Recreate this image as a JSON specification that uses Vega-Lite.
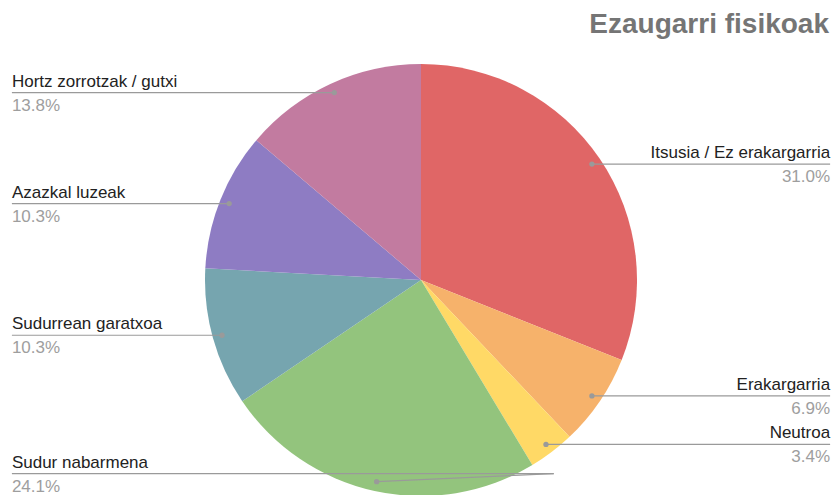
{
  "$schema": "https://vega.github.io/schema/vega-lite/v6.json",
  "width": 834,
  "height": 495,
  "autosize": "none",
  "padding": 0,
  "background": "white",
  "title": {
    "text": "Ezaugarri fisikoak",
    "anchor": "end",
    "font": "Liberation Sans",
    "fontSize": 28,
    "fontWeight": "bold",
    "color": "#757575",
    "baseline": "alphabetic",
    "dx": -5,
    "dy": 65
  },
  "config": {"view": {"stroke": null}},
  "data": {
    "values": [
      {"label": "Itsusia / Ez erakargarria", "count": 9},
      {"label": "Erakargarria", "count": 2},
      {"label": "Neutroa", "count": 1},
      {"label": "Sudur nabarmena", "count": 7},
      {"label": "Sudurrean garatxoa", "count": 3},
      {"label": "Azazkal luzeak", "count": 3},
      {"label": "Hortz zorrotzak / gutxi", "count": 4}
    ]
  },
  "transform": [
    {"window": [{"op": "sum", "field": "count", "as": "cum"}, {"op": "row_number", "as": "i"}], "frame": [null, 0]},
    {"joinaggregate": [{"op": "sum", "field": "count", "as": "total"}]},
    {"calculate": "2*PI*(datum.cum - datum.count/2)/datum.total", "as": "mid"},
    {"calculate": "0.956*sin(datum.mid)", "as": "px"},
    {"calculate": "0.956*cos(datum.mid)", "as": "py"},
    {"calculate": "datum.px >= 0 ? 1 : -1", "as": "side"},
    {"calculate": "max(datum.py, -0.896)", "as": "ly"},
    {"calculate": "datum.ly > datum.py ? datum.px - datum.side*0.82 : datum.px", "as": "bx"},
    {"calculate": "datum.side*1.894", "as": "lx"},
    {"calculate": "format(datum.count/datum.total, '.1%')", "as": "pct"}
  ],
  "layer": [
    {
      "mark": {"type": "arc", "outerRadius": 216},
      "encoding": {
        "theta": {"field": "count", "type": "quantitative", "stack": true},
        "order": {"field": "i", "type": "quantitative"},
        "color": {
          "field": "label",
          "type": "nominal",
          "legend": null,
          "scale": {
            "domain": ["Itsusia / Ez erakargarria", "Erakargarria", "Neutroa", "Sudur nabarmena", "Sudurrean garatxoa", "Azazkal luzeak", "Hortz zorrotzak / gutxi"],
            "range": ["#e06666", "#f6b26b", "#ffd966", "#93c47d", "#76a5af", "#8e7cc3", "#c27ba0"]
          }
        },
        "x": {"datum": 0, "type": "quantitative", "axis": null, "scale": {"domain": [-1.9491, 1.912], "nice": false, "zero": false}},
        "y": {"datum": 0, "type": "quantitative", "axis": null, "scale": {"domain": [-0.99537, 1.2963], "nice": false, "zero": false}}
      }
    },
    {
      "mark": {"type": "rule", "color": "#9a9a9a", "strokeWidth": 1.2},
      "encoding": {
        "x": {"field": "lx", "type": "quantitative", "axis": null, "scale": {"domain": [-1.9491, 1.912], "nice": false, "zero": false}},
        "x2": {"field": "bx"},
        "y": {"field": "ly", "type": "quantitative", "axis": null, "scale": {"domain": [-0.99537, 1.2963], "nice": false, "zero": false}}
      }
    },
    {
      "mark": {"type": "rule", "color": "#9a9a9a", "strokeWidth": 1.2},
      "encoding": {
        "x": {"field": "bx", "type": "quantitative", "axis": null, "scale": {"domain": [-1.9491, 1.912], "nice": false, "zero": false}},
        "x2": {"field": "px"},
        "y": {"field": "ly", "type": "quantitative", "axis": null, "scale": {"domain": [-0.99537, 1.2963], "nice": false, "zero": false}},
        "y2": {"field": "py"}
      }
    },
    {
      "mark": {"type": "point", "filled": true, "color": "#9a9a9a", "size": 28, "opacity": 1},
      "encoding": {
        "x": {"field": "px", "type": "quantitative", "axis": null, "scale": {"domain": [-1.9491, 1.912], "nice": false, "zero": false}},
        "y": {"field": "py", "type": "quantitative", "axis": null, "scale": {"domain": [-0.99537, 1.2963], "nice": false, "zero": false}}
      }
    },
    {
      "transform": [{"filter": "datum.side > 0"}],
      "mark": {"type": "text", "align": "right", "baseline": "alphabetic", "dy": -6, "font": "Liberation Sans", "fontSize": 17, "color": "#222222"},
      "encoding": {
        "x": {"field": "lx", "type": "quantitative", "axis": null, "scale": {"domain": [-1.9491, 1.912], "nice": false, "zero": false}},
        "y": {"field": "ly", "type": "quantitative", "axis": null, "scale": {"domain": [-0.99537, 1.2963], "nice": false, "zero": false}},
        "text": {"field": "label"}
      }
    },
    {
      "transform": [{"filter": "datum.side < 0"}],
      "mark": {"type": "text", "align": "left", "baseline": "alphabetic", "dy": -6, "font": "Liberation Sans", "fontSize": 17, "color": "#222222"},
      "encoding": {
        "x": {"field": "lx", "type": "quantitative", "axis": null, "scale": {"domain": [-1.9491, 1.912], "nice": false, "zero": false}},
        "y": {"field": "ly", "type": "quantitative", "axis": null, "scale": {"domain": [-0.99537, 1.2963], "nice": false, "zero": false}},
        "text": {"field": "label"}
      }
    },
    {
      "transform": [{"filter": "datum.side > 0"}],
      "mark": {"type": "text", "align": "right", "baseline": "alphabetic", "dy": 18, "font": "Liberation Sans", "fontSize": 17, "color": "#9e9e9e"},
      "encoding": {
        "x": {"field": "lx", "type": "quantitative", "axis": null, "scale": {"domain": [-1.9491, 1.912], "nice": false, "zero": false}},
        "y": {"field": "ly", "type": "quantitative", "axis": null, "scale": {"domain": [-0.99537, 1.2963], "nice": false, "zero": false}},
        "text": {"field": "pct"}
      }
    },
    {
      "transform": [{"filter": "datum.side < 0"}],
      "mark": {"type": "text", "align": "left", "baseline": "alphabetic", "dy": 18, "font": "Liberation Sans", "fontSize": 17, "color": "#9e9e9e"},
      "encoding": {
        "x": {"field": "lx", "type": "quantitative", "axis": null, "scale": {"domain": [-1.9491, 1.912], "nice": false, "zero": false}},
        "y": {"field": "ly", "type": "quantitative", "axis": null, "scale": {"domain": [-0.99537, 1.2963], "nice": false, "zero": false}},
        "text": {"field": "pct"}
      }
    }
  ]
}
